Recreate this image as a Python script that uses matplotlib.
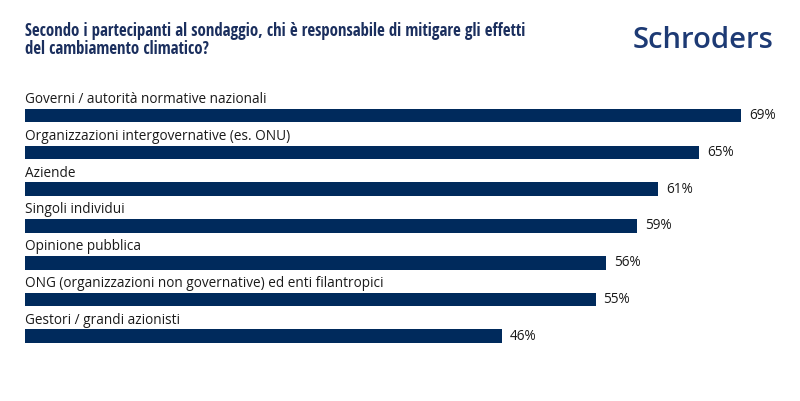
import matplotlib.pyplot as plt

plt.rcParams['font.family'] = ['Open Sans', 'DejaVu Sans']

categories = [
    'Governi / autorità normative nazionali',
    'Organizzazioni intergovernative (es. ONU)',
    'Aziende',
    'Singoli individui',
    'Opinione pubblica',
    'ONG (organizzazioni non governative) ed enti filantropici',
    'Gestori / grandi azionisti',
]
values = [69, 65, 61, 59, 56, 55, 46]
value_labels = ['69%', '65%', '61%', '59%', '56%', '55%', '46%']

title_lines = ['Secondo i partecipanti al sondaggio, chi è responsabile di mitigare gli effetti',
               'del cambiamento climatico?']

navy = '#002a5c'
W, H = 800, 401

fig = plt.figure(figsize=(8, 4.01), dpi=100)
renderer = fig.canvas.get_renderer()


def fit_width(t, target_px):
    # shrink/grow font so the text spans target_px
    w = t.get_window_extent(renderer).width
    t.set_fontsize(t.get_fontsize() * target_px / w)


# axes from x=25 to x=772 px, y=80 to 360 px
ax = fig.add_axes([25 / W, (H - 360) / H, 747 / W, 280 / H])
ax.set_xlim(0, 747 / (716 / 69))
ax.set_ylim(6.644, -0.965)
ax.axis('off')

ypos = list(range(len(categories)))
ax.barh(ypos, values, height=0.37, color=navy)

for y, cat, v, lab in zip(ypos, categories, values, value_labels):
    ax.text(0, y - 0.34, cat, fontsize=9.8, color='#1a1a1a', va='baseline', ha='left')
    ax.text(v + 0.75, y, lab, fontsize=9.8, color='#1a1a1a', va='center', ha='left')

title_font = ['Open Sans Condensed', 'Open Sans', 'DejaVu Sans']
t1 = fig.text(25 / W, 1 - 36.5 / H, title_lines[0], fontsize=11, fontweight='bold',
              family=title_font, color='#1b2f5e', va='baseline', ha='left')
fit_width(t1, 501)
fig.text(25 / W, 1 - 54 / H, title_lines[1], fontsize=t1.get_fontsize(), fontweight='bold',
         family=title_font, color='#1b2f5e', va='baseline', ha='left')

logo = fig.text(773 / W, 1 - 48 / H, 'Schroders', fontsize=20, fontweight='semibold',
                color='#1d3a74', ha='right', va='baseline')
fit_width(logo, 141)

fig.savefig('out.png', dpi=100)
